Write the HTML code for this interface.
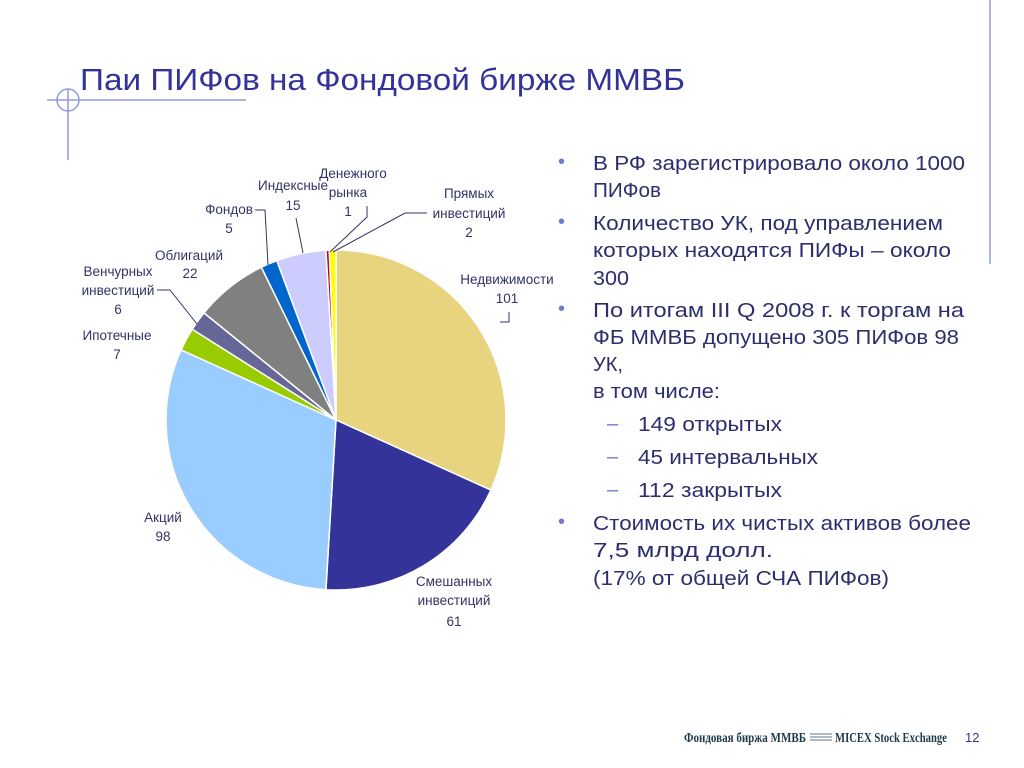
<!DOCTYPE html>
<html><head><meta charset="utf-8">
<style>
body{margin:0;background:#fff;}
#c{position:relative;width:1024px;height:768px;overflow:hidden;background:#fff;font-family:"Liberation Sans","DejaVu Sans",sans-serif;}
</style></head>
<body>
<div id="c">
<svg id="s" width="1024" height="768" xmlns="http://www.w3.org/2000/svg">
  <g stroke="#8F9BE0" stroke-width="1.5" fill="none">
    <line x1="47" y1="100" x2="246" y2="100"/>
    <line x1="68" y1="89" x2="68" y2="160"/>
    <circle cx="68" cy="100" r="11"/>
    <line x1="990" y1="0" x2="990" y2="264"/>
  </g>
  <text x="80" y="90" font-size="31" fill="#333399" textLength="605" lengthAdjust="spacingAndGlyphs">Паи ПИФов на Фондовой бирже ММВБ</text>
  <g id="pie"></g>
  <g stroke="#333366" stroke-width="1" fill="none">
    <polyline points="255,210 265,210 268,265"/>
    <polyline points="296,218 303,253"/>
    <polyline points="367,206 367,217 330,252"/>
    <polyline points="427,213 405,213 333,252"/>
    <polyline points="157,290 170,290 197,324"/>
    <polyline points="509,312 509,322 500,322"/>
  </g>
  <g font-size="13.5" fill="#333366" text-anchor="middle">
    <text x="353" y="178">Денежного<tspan x="348" dy="19">рынка</tspan><tspan x="348" dy="19" class="v" data-i="8"></tspan></text>
    <text x="293" y="190">Индексные<tspan x="293" dy="20" class="v" data-i="7"></tspan></text>
    <text x="469" y="198">Прямых<tspan x="469" dy="20">инвестиций</tspan><tspan x="469" dy="19" class="v" data-i="9"></tspan></text>
    <text x="229" y="214">Фондов<tspan x="229" dy="19" class="v" data-i="6"></tspan></text>
    <text x="189" y="260">Облигаций<tspan x="190" dy="18" class="v" data-i="5"></tspan></text>
    <text x="118" y="276">Венчурных<tspan x="118" dy="19">инвестиций</tspan><tspan x="118" dy="19" class="v" data-i="4"></tspan></text>
    <text x="507" y="284">Недвижимости<tspan x="507" dy="19" class="v" data-i="0"></tspan></text>
    <text x="117" y="340">Ипотечные<tspan x="117" dy="19" class="v" data-i="3"></tspan></text>
    <text x="163" y="522">Акций<tspan x="163" dy="19" class="v" data-i="2"></tspan></text>
    <text x="454" y="586">Смешанных<tspan x="454" dy="19">инвестиций</tspan><tspan x="454" dy="21" class="v" data-i="1"></tspan></text>
  </g>
  <g font-size="20" fill="#2E2E6E">
    <g fill="#6A7BD0"><text x="558" y="168">•</text><text x="558" y="228">•</text><text x="558" y="315">•</text><text x="558" y="528">•</text>
    <text x="607" y="430">–</text><text x="607" y="463">–</text><text x="607" y="496">–</text></g>
    <text x="593" y="170" textLength="372" lengthAdjust="spacingAndGlyphs">В РФ зарегистрировало около 1000</text>
    <text x="593" y="197" textLength="68" lengthAdjust="spacingAndGlyphs">ПИФов</text>
    <text x="593" y="230" textLength="350" lengthAdjust="spacingAndGlyphs">Количество УК, под управлением</text>
    <text x="593" y="257" textLength="358" lengthAdjust="spacingAndGlyphs">которых находятся ПИФы – около</text>
    <text x="593" y="285" textLength="36" lengthAdjust="spacingAndGlyphs">300</text>
    <text x="593" y="317" textLength="371" lengthAdjust="spacingAndGlyphs">По итогам III Q 2008 г. к торгам на</text>
    <text x="593" y="344" textLength="366" lengthAdjust="spacingAndGlyphs">ФБ ММВБ допущено 305 ПИФов 98</text>
    <text x="593" y="371">УК,</text>
    <text x="593" y="398" textLength="127" lengthAdjust="spacingAndGlyphs">в том числе:</text>
    <text x="638" y="431" textLength="144" lengthAdjust="spacingAndGlyphs">149 открытых</text>
    <text x="638" y="464" textLength="180" lengthAdjust="spacingAndGlyphs">45 интервальных</text>
    <text x="638" y="497" textLength="144" lengthAdjust="spacingAndGlyphs">112 закрытых</text>
    <text x="593" y="530" textLength="378" lengthAdjust="spacingAndGlyphs">Стоимость их чистых активов более</text>
    <text x="593" y="557" textLength="180" lengthAdjust="spacingAndGlyphs">7,5 млрд долл.</text>
    <text x="593" y="585" textLength="296" lengthAdjust="spacingAndGlyphs">(17% от общей СЧА ПИФов)</text>
  </g>
  <g>
    <text x="684" y="742" font-family="Liberation Serif,serif" font-weight="bold" font-size="14" fill="#1F3A4A" textLength="122" lengthAdjust="spacingAndGlyphs">Фондовая биржа ММВБ</text>
    <g stroke="#667788" stroke-width="1"><line x1="810" y1="734" x2="832" y2="734"/><line x1="810" y1="737" x2="832" y2="737"/><line x1="810" y1="740" x2="832" y2="740"/></g>
    <text x="835" y="742" font-family="Liberation Serif,serif" font-weight="bold" font-size="14" fill="#1F3A4A" textLength="112" lengthAdjust="spacingAndGlyphs">MICEX Stock Exchange</text>
    <text x="965" y="742" font-size="13" fill="#333399">12</text>
  </g>
</svg>
</div>
<script>
const categories = ["Недвижимости","Смешанных инвестиций","Акций","Ипотечные","Венчурных инвестиций","Облигаций","Фондов","Индексные","Денежного рынка","Прямых инвестиций"];
const values = [101, 61, 98, 7, 6, 22, 5, 15, 1, 2];
const colors = ["#E8D47F","#333399","#99CCFF","#99CC00","#666699","#808080","#0066CC","#CCCCFF","#CC0000","#FFFF00"];
const NS = "http://www.w3.org/2000/svg";
const cx = 336, cy = 420, r = 170;
const total = values.reduce((a,b)=>a+b,0);
const pie = document.getElementById('pie');
let a0 = 0;
values.forEach((v,i)=>{
  const a1 = a0 + v/total*2*Math.PI;
  const x0 = cx + r*Math.sin(a0), y0 = cy - r*Math.cos(a0);
  const x1 = cx + r*Math.sin(a1), y1 = cy - r*Math.cos(a1);
  const large = (a1-a0) > Math.PI ? 1 : 0;
  const p = document.createElementNS(NS,'path');
  p.setAttribute('d',`M${cx},${cy} L${x0},${y0} A${r},${r} 0 ${large} 1 ${x1},${y1} Z`);
  p.setAttribute('fill',colors[i]);
  p.setAttribute('stroke','#ffffff');
  p.setAttribute('stroke-width','1.5');
  
  
  pie.appendChild(p);
  a0 = a1;
});
document.querySelectorAll('tspan.v').forEach(t=>{ t.textContent = values[+t.getAttribute('data-i')]; });
</script>
</body></html>
